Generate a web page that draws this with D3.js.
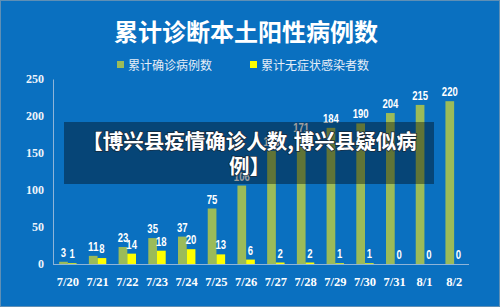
<!DOCTYPE html>
<html>
<head>
<meta charset="utf-8">
<script src="https://cdn.jsdelivr.net/npm/d3@7"></script>
<style>
html,body{margin:0;padding:0;background:#0a70c0;}
svg{display:block;}
</style>
</head>
<body>
<svg id="chart" width="500" height="307"></svg>
<script>
const categories = ["7/20","7/21","7/22","7/23","7/24","7/25","7/26","7/27","7/28","7/29","7/30","7/31","8/1","8/2"];
const confirmed = [3,11,23,35,37,75,106,153,171,184,190,204,215,220];
const asymptomatic = [1,8,14,18,20,13,6,2,2,1,1,0,0,0];
const seriesNames = ["累计确诊病例数","累计无症状感染者数"];
const yTicks = [0,50,100,150,200,250];
const titleText = "累计诊断本土阳性病例数";
const overlayLines = ["【博兴县疫情确诊人数,博兴县疑似病","例】"];

const W = 500, H = 307;
const colors = ["#9bbb59","#ffff00"];
const svg = d3.select("#chart");

svg.append("rect").attr("x",0.5).attr("y",0.5).attr("width",W-1).attr("height",H-1)
  .attr("fill","#0a70c0").attr("stroke","#5f8fb5").attr("stroke-width",1);

const y = d3.scaleLinear().domain([0,250]).range([264,79]);
const x0 = d3.scaleBand().domain(categories).range([53,469]).paddingInner(0.414).paddingOuter(0.207);
const x1 = d3.scaleBand().domain([0,1]).range([0,x0.bandwidth()]);

// title
svg.append("text").attr("x",246).attr("y",41).attr("text-anchor","middle")
  .attr("font-family","'Noto Sans CJK SC', sans-serif").attr("font-weight","bold")
  .attr("font-size",24).attr("fill","#ffffff").text(titleText);

// legend
const legendX = [117,250];
seriesNames.forEach((n,i)=>{
  svg.append("rect").attr("x",legendX[i]).attr("y",61).attr("width",7).attr("height",7).attr("fill",colors[i]);
  svg.append("text").attr("x",legendX[i]+11).attr("y",69.5)
    .attr("font-family","'Noto Sans CJK SC', sans-serif").attr("font-size",12)
    .attr("fill","#e6eef8").text(n);
});

// y axis
const yAxis = d3.axisLeft(y).tickValues(yTicks).tickSize(0).tickPadding(9);
const gy = svg.append("g").attr("transform","translate(53,0)").call(yAxis);
gy.select(".domain").attr("stroke","#8fb4d8").attr("stroke-width",1);
gy.selectAll("text").attr("font-family","'Liberation Serif', serif").attr("font-weight","bold")
  .attr("font-size",12).attr("fill","#eef4fb");

// x axis
const xAxis = d3.axisBottom(x0).tickSize(0).tickPadding(13).tickSizeOuter(0);
const gx = svg.append("g").attr("transform","translate(0,264)").call(xAxis);
gx.select(".domain").attr("stroke","#8fb4d8").attr("stroke-width",1).attr("d","M53,0.5H469");
gx.selectAll("text").attr("font-family","'Liberation Serif', serif").attr("font-weight","bold")
  .attr("font-size",12.5).attr("fill","#ffffff");

// bars
const rows = categories.map((c,i)=>({c, vals:[confirmed[i], asymptomatic[i]]}));
const groups = svg.append("g").selectAll("g").data(rows).join("g")
  .attr("transform",d=>`translate(${x0(d.c)},0)`);
groups.selectAll("rect").data(d=>d.vals.map((v,k)=>({v,k}))).join("rect")
  .attr("x",d=>x1(d.k)).attr("width",x1.bandwidth())
  .attr("y",d=>y(d.v)).attr("height",d=>y(0)-y(d.v))
  .attr("fill",d=>colors[d.k]);
groups.selectAll("text").data(d=>d.vals.map((v,k)=>({v,k}))).join("text")
  .attr("x",d=>x1(d.k)+x1.bandwidth()/2).attr("y",d=>y(d.v)-5)
  .attr("text-anchor","middle")
  .attr("font-family","'Liberation Sans',sans-serif")
  .attr("font-weight","bold").attr("font-size",12).attr("fill","#ffffff")
  .attr("textLength",d=>String(d.v).length*5.3).attr("lengthAdjust","spacingAndGlyphs")
  .text(d=>d.v);

// overlay
svg.append("rect").attr("x",64).attr("y",122).attr("width",370).attr("height",62)
  .attr("fill","rgba(0,0,0,0.38)");
overlayLines.forEach((t,i)=>{
  svg.append("text").attr("x",249.5).attr("y",149+i*25).attr("text-anchor","middle")
    .attr("font-family","'Noto Sans CJK SC', sans-serif").attr("font-weight","bold")
    .attr("font-size",20.5).attr("fill","#ffffff")
    .attr("stroke","#1a2a3a").attr("stroke-width",1.5).attr("paint-order","stroke")
    .text(t);
});
</script>
</body>
</html>
